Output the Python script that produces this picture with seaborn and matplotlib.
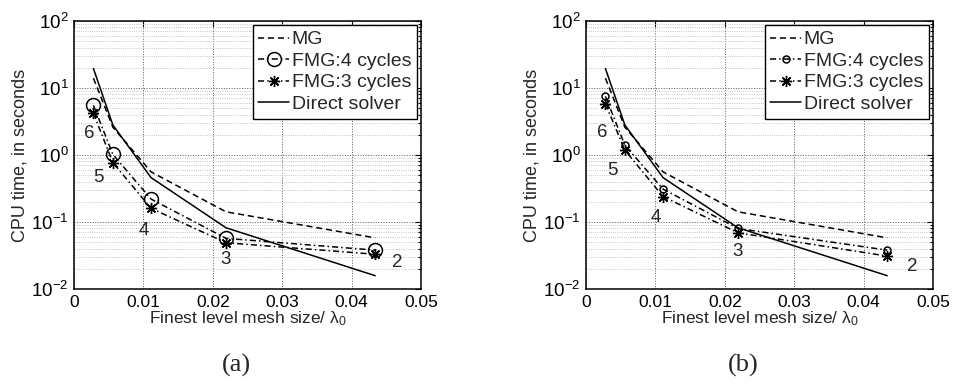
import matplotlib
matplotlib.use("Agg")
import matplotlib.pyplot as plt
from matplotlib import font_manager
import seaborn as sns

# mesh size / lambda_0 for levels 6..2
mesh_size = [0.0028, 0.0056, 0.0111, 0.0219, 0.0434]
levels = ["6", "5", "4", "3", "2"]

# CPU times in seconds (same for both panels)
mg_time = [14.0, 2.6, 0.56, 0.142, 0.058]
direct_time = [19.5, 2.8, 0.46, 0.082, 0.0158]

# panel (a)
fmg4_a = [5.5, 1.02, 0.22, 0.057, 0.038]
fmg3_a = [4.2, 0.77, 0.16, 0.049, 0.033]
# panel (b)
fmg4_b = [7.5, 1.4, 0.31, 0.080, 0.038]
fmg3_b = [5.8, 1.18, 0.24, 0.069, 0.031]

sns.set_style("white")

names = {f.name for f in font_manager.fontManager.ttflist}
SANS = "Liberation Sans" if "Liberation Sans" in names else "DejaVu Sans"
NARROW = "Liberation Sans Narrow" if "Liberation Sans Narrow" in names else SANS
SERIF = "Liberation Serif" if "Liberation Serif" in names else "DejaVu Serif"
plt.rcParams["font.family"] = [SANS, "DejaVu Sans"]
plt.rcParams["mathtext.fontset"] = "custom"
plt.rcParams["mathtext.rm"] = SANS


def draw_panel(ax, fmg4, fmg3, circle_size, offsets):
    sns.lineplot(x=mesh_size, y=mg_time, ax=ax, color="k", lw=1.1,
                 linestyle="--", label="MG", sort=False, estimator=None)
    sns.lineplot(x=mesh_size, y=fmg4, ax=ax, color="k", lw=1.1,
                 marker="o", ms=circle_size, mfc="none", mec="k", mew=1.1,
                 label="FMG:4 cycles", sort=False, estimator=None)
    sns.lineplot(x=mesh_size, y=fmg3, ax=ax, color="k", lw=1.1,
                 marker=(8, 2, 0), ms=8, mec="k", mew=1.0,
                 label="FMG:3 cycles", sort=False, estimator=None)
    sns.lineplot(x=mesh_size, y=direct_time, ax=ax, color="k", lw=1.1,
                 linestyle="-", label="Direct solver",
                 sort=False, estimator=None)
    lines = ax.get_lines()
    lines[0].set_dashes((4, 2.5))
    lines[1].set_dashes((4, 2, 1, 2))
    lines[2].set_dashes((4, 2, 1, 2))

    # level numbers next to the FMG:3 points
    for lev, xv, yv, (dx, dy) in zip(levels, mesh_size, fmg3, offsets):
        ax.annotate(lev, (xv, yv), xytext=(dx, -dy), textcoords="offset pixels",
                    ha="center", va="center", fontsize=13.5, family=SANS)

    ax.set_yscale("log")
    ax.set_xlim(0, 0.05)
    ax.set_ylim(1e-2, 1e2)
    ax.set_xticks([0, 0.01, 0.02, 0.03, 0.04, 0.05])
    ax.set_xticklabels(["0", "0.01", "0.02", "0.03", "0.04", "0.05"],
                       family=NARROW, fontsize=12.5)
    ax.set_yticks([1e-2, 1e-1, 1e0, 1e1, 1e2])
    for t in ax.get_yticklabels():
        t.set_fontsize(13.5)
    ax.tick_params(which="both", direction="in", top=True, right=True,
                   colors="k", width=0.8)
    ax.tick_params(which="major", length=4, pad=4)
    ax.tick_params(which="minor", length=2)
    ax.tick_params(axis="x", which="minor", bottom=False, top=False)

    ax.grid(True, which="major", color="0.35", linestyle=":", lw=0.7)
    ax.grid(True, which="minor", axis="y", color="0.7", linestyle=":", lw=0.6)
    for s in ax.spines.values():
        s.set_color("k")
        s.set_linewidth(1.1)

    ax.set_ylabel("CPU time, in seconds", fontsize=13, labelpad=2)
    ax.set_xlabel(r"Finest level mesh size/ $\mathregular{\lambda_0}$",
                  family=NARROW, fontsize=12.5, labelpad=0)

    leg = ax.legend(loc="upper right", bbox_to_anchor=(0.988, 0.985),
                    borderaxespad=0, fancybox=False, framealpha=1,
                    edgecolor="k", fontsize=14, handlelength=1.55,
                    handletextpad=0.15, labelspacing=0.2, borderpad=0.3)
    leg.get_frame().set_linewidth(1.0)


fig = plt.figure(figsize=(9.55, 3.85), dpi=100)
ax_a = fig.add_axes([74 / 955, 96 / 385, 347 / 955, 268 / 385])
ax_b = fig.add_axes([586 / 955, 96 / 385, 347 / 955, 268 / 385])

draw_panel(ax_a, fmg4_a, fmg3_a, 10,
           [(-4, 20), (-14, 15), (-7, 22), (0, 17), (22, 8)])
draw_panel(ax_b, fmg4_b, fmg3_b, 5,
           [(-3, 29), (-12, 20), (-7, 21), (0, 19), (25, 10)])

fig.text(236 / 955, 20 / 385, "(a)", ha="center", va="center",
         family=SERIF, fontsize=19)
fig.text(743 / 955, 20 / 385, "(b)", ha="center", va="center",
         family=SERIF, fontsize=19)

fig.savefig("out.png", dpi=100)
